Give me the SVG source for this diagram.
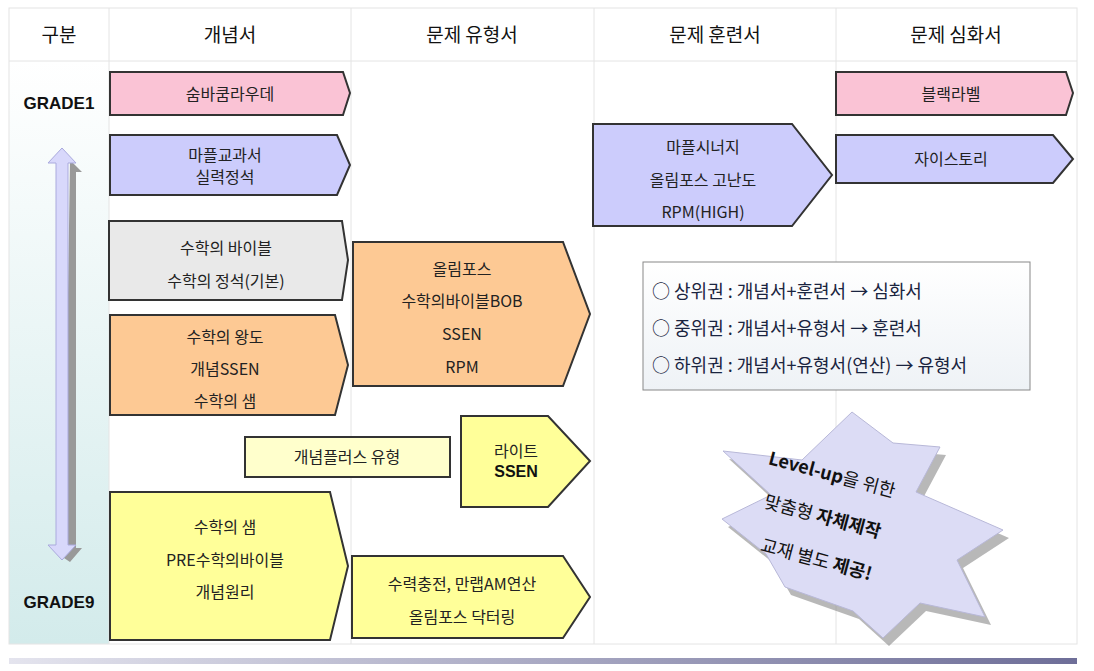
<svg xmlns="http://www.w3.org/2000/svg" width="1094" height="671" viewBox="0 0 1094 671">
<defs>
<linearGradient id="lc" x1="0" y1="0" x2="0" y2="1"><stop offset="0" stop-color="#fff"/><stop offset="1" stop-color="#d3ebeb"/></linearGradient>
<linearGradient id="bar" x1="0" y1="0" x2="1" y2="0"><stop offset="0" stop-color="#e4e4ee"/><stop offset="1" stop-color="#6e6e98"/></linearGradient>
<linearGradient id="ib" x1="0" y1="0" x2="0" y2="1"><stop offset="0" stop-color="#fff"/><stop offset="1" stop-color="#eef2f6"/></linearGradient>
<style>
.n{stroke:#333;stroke-width:2}
.t{font-family:"Noto Sans CJK KR","Noto Sans",sans-serif;font-size:16px;fill:#222;text-anchor:middle}
.h{font-family:"Noto Sans CJK KR",sans-serif;font-size:19px;fill:#111;text-anchor:middle}
.b{font-family:"Liberation Sans","Noto Sans CJK KR",sans-serif;font-weight:bold;font-size:16px;fill:#111;text-anchor:middle}
.i{font-family:"Noto Sans CJK KR",sans-serif;font-size:18px;fill:#1a2440}
.g{stroke:#e4e4e4;stroke-width:1;fill:none}
</style>
</defs>
<rect width="1094" height="671" fill="#fff"/>
<rect x="9" y="61" width="100" height="583" fill="url(#lc)"/>
<g class="g"><rect x="9" y="8" width="1068" height="636"/><line x1="9" y1="61" x2="1077" y2="61"/><line x1="109" y1="8" x2="109" y2="644"/><line x1="351" y1="8" x2="351" y2="644"/><line x1="594" y1="8" x2="594" y2="644"/><line x1="836" y1="8" x2="836" y2="644"/></g>
<rect x="9" y="658" width="1068" height="6" fill="url(#bar)"/>
<g id="header">
<text class="h" x="59" y="42">구분</text><text class="h" x="230" y="42">개념서</text><text class="h" x="472" y="42">문제 유형서</text><text class="h" x="715" y="42">문제 훈련서</text><text class="h" x="956" y="42">문제 심화서</text>
</g>
<g id="grades"><text class="b" x="59" y="109" style="font-size:17px">GRADE1</text><text class="b" x="59" y="608" style="font-size:17px">GRADE9</text></g>
<g id="updown">
<polygon points="70,160 82,172 76,172 76,548 82,548 70,562 64,558" fill="#999"/>
<polygon points="62,148 76,163 68,163 68,545 76,545 62,560 48,545 56,545 56,163 48,163" fill="#d8d8fb" stroke="#aaaadd" stroke-width="1"/>
</g>
<g id="n1"><polygon class="n" points="110,72 343,72 350,93 343,115 110,115" fill="#fac3d5"/><text class="t" x="230" y="100">숨바쿰라우데</text></g>
<g id="n2"><polygon class="n" points="110,135 337,135 350,165 337,195 110,195" fill="#ccccfc"/><text class="t" x="225" y="161">마플교과서</text><text class="t" x="225" y="183">실력정석</text></g>
<g id="n3"><polygon class="n" points="109,221 342,221 348,260 342,300 109,300" fill="#e9e9e9"/><text class="t" x="226" y="254">수학의 바이블</text><text class="t" x="226" y="287">수학의 정석(기본)</text></g>
<g id="n4"><polygon class="n" points="110,315 335,315 348,365 335,415 110,415" fill="#fdc994"/><text class="t" x="225" y="343">수학의 왕도</text><text class="t" x="225" y="375">개념SSEN</text><text class="t" x="225" y="407">수학의 샘</text></g>
<g id="n5"><polygon class="n" points="353,242 563,242 590,314 563,386 353,386" fill="#fdc994"/><text class="t" x="462" y="275">올림포스</text><text class="t" x="462" y="307">수학의바이블BOB</text><text class="t" x="462" y="340">SSEN</text><text class="t" x="462" y="373">RPM</text></g>
<g id="n6"><rect class="n" x="245" y="437" width="205" height="40" fill="#ffffcc"/><text class="t" x="347" y="463">개념플러스 유형</text></g>
<g id="n7"><polygon class="n" points="461,416 548,416 590,461 548,507 461,507" fill="#ffff99"/><text class="t" x="516" y="457">라이트</text><text class="b" x="516" y="477">SSEN</text></g>
<g id="n8"><polygon class="n" points="110,492 330,492 348,566 330,640 110,640" fill="#ffff99"/><text class="t" x="225" y="533">수학의 샘</text><text class="t" x="225" y="566">PRE수학의바이블</text><text class="t" x="225" y="598">개념원리</text></g>
<g id="n9"><polygon class="n" points="352,556 563,556 590,597 563,638 352,638" fill="#ffff99"/><text class="t" x="462" y="590">수력충전, 만랩AM연산</text><text class="t" x="462" y="623">올림포스 닥터링</text></g>
<g id="n10"><polygon class="n" points="593,124 792,124 832,175 792,226 593,226" fill="#ccccfc"/><text class="t" x="703" y="153">마플시너지</text><text class="t" x="703" y="186">올림포스 고난도</text><text class="t" x="703" y="218">RPM(HIGH)</text></g>
<g id="n11"><polygon class="n" points="836,72 1066,72 1073,93 1066,115 836,115" fill="#fac3d5"/><text class="t" x="951" y="100">블랙라벨</text></g>
<g id="n12"><polygon class="n" points="836,135 1053,135 1073,159 1053,183 836,183" fill="#ccccfc"/><text class="t" x="951" y="165">자이스토리</text></g>
<g id="info"><rect x="643" y="262" width="387" height="128" fill="url(#ib)" stroke="#888" stroke-width="1"/>
<text class="i" x="652" y="298">○ 상위권 : 개념서+훈련서 → 심화서</text>
<text class="i" x="652" y="335">○ 중위권 : 개념서+유형서 → 훈련서</text>
<text class="i" x="652" y="372">○ 하위권 : 개념서+유형서(연산) → 유형서</text></g>
<g id="burst">
<polygon transform="translate(6,8)" fill="#888" opacity="0.6" points="852,412 893,443 940,447 916,492 1003,530 957,560 985,617 920,603 883,638 853,611 785,587 766,554 722,519 771,495 723,451 802,460"/>
<polygon fill="#dcdcf5" stroke="#b8b8d8" stroke-width="1" points="852,412 893,443 940,447 916,492 1003,530 957,560 985,617 920,603 883,638 853,611 785,587 766,554 722,519 771,495 723,451 802,460"/>
<g transform="rotate(15 830 520)" font-family="'Noto Sans CJK KR',sans-serif" font-size="18" font-weight="bold" fill="#111">
<text x="755" y="482">Level-up<tspan font-weight="normal">을 위한</tspan></text>
<text x="762" y="525"><tspan font-weight="normal">맞춤형 </tspan>자체제작</text>
<text x="770" y="568"><tspan font-weight="normal">교재 별도 </tspan>제공!</text>
</g></g>
</svg>
